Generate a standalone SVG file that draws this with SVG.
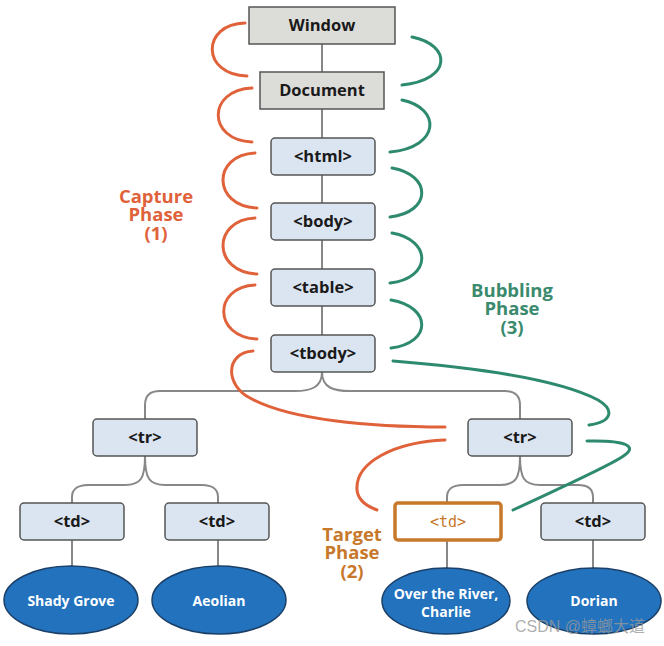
<svg xmlns="http://www.w3.org/2000/svg" width="664" height="646" viewBox="0 0 664 646">
<style>
.box{fill:#dbe5f1;stroke:#555;stroke-width:1.5}
.gbox{fill:#dcdcd8;stroke:#555;stroke-width:1.5}
.tgt{fill:#fff;stroke:#c8782a;stroke-width:3.5}
.ell{fill:#2272be;stroke:#1b3f66;stroke-width:1.5}
.lbl{font-family:"Open Sans","Liberation Sans",sans-serif;font-weight:bold;font-size:16.5px;fill:#1a1a1a;text-anchor:middle}
.big{font-size:16.5px}
.wl{font-family:"Open Sans","Liberation Sans",sans-serif;font-weight:bold;font-size:14px;fill:#fff;text-anchor:middle}
.mono{font-family:"DejaVu Sans Mono","Liberation Mono",monospace;font-size:15px;fill:#c8782a;text-anchor:middle}
.ph{font-family:"Open Sans","Liberation Sans",sans-serif;font-weight:bold;font-size:18.5px;text-anchor:middle}
.cap{fill:none;stroke:#e0623a;stroke-width:3;stroke-linecap:round}
.bub{fill:none;stroke:#2e8a6e;stroke-width:3;stroke-linecap:round}
.con{fill:none;stroke:#888;stroke-width:2}
</style>
<g id="connectors">
<path class="con" d="M322,44V72M322,109V138M322,175V203M322,240V269M322,306V335"/>
<path class="con" d="M322,372C322,388 310,391 295,391H160C149,391 145,397 145,405V419"/>
<path class="con" d="M322,372C322,388 334,391 350,391H505C516,391 520,397 520,405V419"/>
<path class="con" d="M145,456C145,478 141,485 125,485H88C77,485 72,490 72,497V503"/>
<path class="con" d="M145,456C145,478 149,485 165,485H202C213,485 218,490 218,497V503"/>
<path class="con" d="M520,456C520,478 516,485 500,485H463C452,485 447,490 447,497V503"/>
<path class="con" d="M520,456C520,478 524,485 540,485H578C589,485 593,490 593,497V503"/>
<path class="con" d="M72,540V566M218,540V566M447,540V568M593,540V568"/>
<path class="cap" d="M245,23C201,24 201,75 247,76"/>
<path class="cap" d="M252,88C207,90 207,140 252,142"/>
<path class="cap" d="M255,153C212,155 212,206 257,208"/>
<path class="cap" d="M255,218C212,220 212,272 257,274"/>
<path class="cap" d="M255,285C213,287 213,337 257,339"/>
<path class="cap" d="M253,351C225,353 225,385 250,398C290,420 370,427 445,427"/>
<path class="cap" d="M445,440C395,442 355,462 357,490C358,500 366,506 377,510"/>
<path class="bub" d="M412,37C452,45 452,80 402,85"/>
<path class="bub" d="M402,100C441,108 441,147 390,152"/>
<path class="bub" d="M392,168C432,175 432,212 390,217"/>
<path class="bub" d="M392,233C432,240 432,278 390,283"/>
<path class="bub" d="M391,300C432,307 432,343 391,348"/>
<path class="bub" d="M393,361C480,368 560,380 598,400C615,410 612,422 589,425"/>
<path class="bub" d="M513,510C560,488 605,468 622,457C640,446 625,440 587,441"/>
</g>
<g id="window"><rect class="gbox" x="249" y="7" width="146" height="37"/><text class="lbl big" x="322" y="31">Window</text></g>
<g id="document"><rect class="gbox" x="260" y="72" width="124" height="37"/><text class="lbl big" x="322" y="96">Document</text></g>
<g id="html"><rect class="box" x="271" y="138" width="104" height="37" rx="4"/><text class="lbl" x="323" y="162">&lt;html&gt;</text></g>
<g id="body"><rect class="box" x="271" y="203" width="104" height="37" rx="4"/><text class="lbl" x="323" y="227">&lt;body&gt;</text></g>
<g id="table"><rect class="box" x="271" y="269" width="104" height="37" rx="4"/><text class="lbl" x="323" y="293">&lt;table&gt;</text></g>
<g id="tbody"><rect class="box" x="271" y="335" width="104" height="37" rx="4"/><text class="lbl" x="323" y="359">&lt;tbody&gt;</text></g>
<g id="tr1"><rect class="box" x="93" y="419" width="104" height="37" rx="4"/><text class="lbl" x="145" y="443">&lt;tr&gt;</text></g>
<g id="tr2"><rect class="box" x="468" y="419" width="104" height="37" rx="4"/><text class="lbl" x="520" y="443">&lt;tr&gt;</text></g>
<g id="td1"><rect class="box" x="20" y="503" width="104" height="37" rx="4"/><text class="lbl" x="72" y="527">&lt;td&gt;</text></g>
<g id="td2"><rect class="box" x="165" y="503" width="104" height="37" rx="4"/><text class="lbl" x="217" y="527">&lt;td&gt;</text></g>
<g id="td3"><rect class="tgt" x="395" y="503" width="106" height="37" rx="3"/><text class="mono" x="448" y="527">&lt;td&gt;</text></g>
<g id="td4"><rect class="box" x="541" y="503" width="104" height="37" rx="4"/><text class="lbl" x="593" y="527">&lt;td&gt;</text></g>
<g id="shady"><ellipse class="ell" cx="71" cy="600" rx="67" ry="34"/><text class="wl" x="71" y="606">Shady Grove</text></g>
<g id="aeolian"><ellipse class="ell" cx="219" cy="600" rx="67" ry="34"/><text class="wl" x="219" y="606">Aeolian</text></g>
<g id="river"><ellipse class="ell" cx="446" cy="601" rx="64" ry="33"/><text class="wl" x="446" y="599"><tspan x="446" y="599">Over the River,</tspan><tspan x="446" y="617">Charlie</tspan></text></g>
<g id="dorian"><ellipse class="ell" cx="594" cy="601" rx="67" ry="33"/><text class="wl" x="594" y="606">Dorian</text></g>
<g id="capture"><text class="ph" fill="#e0623a"><tspan x="156" y="203">Capture</tspan><tspan x="156" y="221">Phase</tspan><tspan x="156" y="240">(1)</tspan></text></g>
<g id="bubbling"><text class="ph" fill="#3a8a6e"><tspan x="512" y="297">Bubbling</tspan><tspan x="512" y="315">Phase</tspan><tspan x="512" y="334">(3)</tspan></text></g>
<g id="target"><text class="ph" fill="#c8782a"><tspan x="352" y="541">Target</tspan><tspan x="352" y="559">Phase</tspan><tspan x="352" y="578">(2)</tspan></text></g>
<text x="580" y="632" font-family="'Liberation Sans','Noto Sans CJK SC',sans-serif" font-size="16" fill="#999" fill-opacity="0.8" text-anchor="middle">CSDN @蟑螂大道</text>
</svg>
